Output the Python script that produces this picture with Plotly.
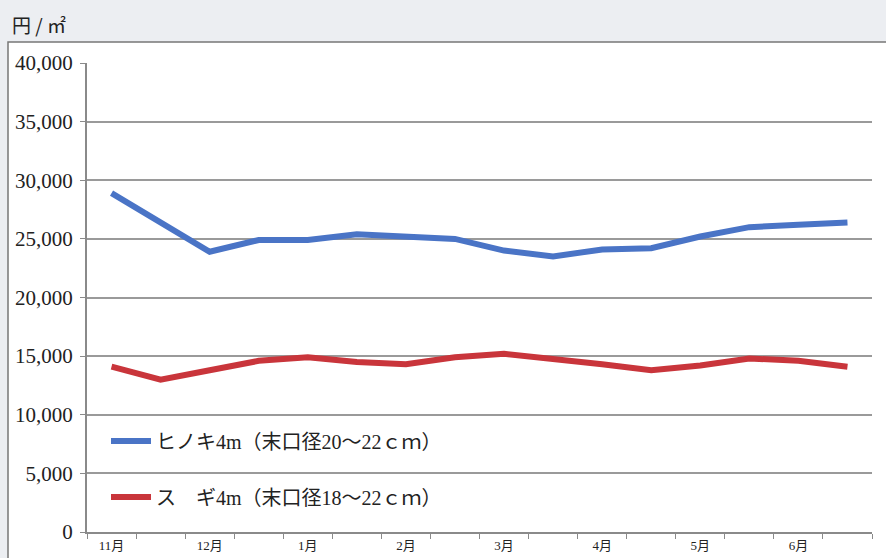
import plotly.graph_objects as go

# ---- data ----
periods = ["11月上", "11月下", "12月上", "12月下", "1月上", "1月下", "2月上", "2月下",
           "3月上", "3月下", "4月上", "4月下", "5月上", "5月下", "6月上", "6月下"]
hinoki = [28900, 26400, 23900, 24900, 24900, 25400, 25200, 25000,
          24000, 23500, 24100, 24200, 25200, 26000, 26200, 26400]
sugi = [14100, 13000, 13800, 14600, 14900, 14500, 14300, 14900,
        15200, 14800, 14300, 13800, 14200, 14800, 14600, 14100]
month_labels = ["11月", "12月", "1月", "2月", "3月", "4月", "5月", "6月"]
y_ticks = [0, 5000, 10000, 15000, 20000, 25000, 30000, 35000, 40000]
hinoki_name = "ヒノキ4m（末口径20～22ｃｍ）"
sugi_name = "ス　ギ4m（末口径18～22ｃｍ）"
unit_label = "円 / ㎡"

SERIF = "Liberation Serif, Noto Sans CJK JP, serif"
xs = list(range(len(periods)))

fig = go.Figure()
fig.add_trace(go.Scatter(x=xs, y=hinoki, mode="lines", name=hinoki_name,
                         line=dict(color="#4a74c6", width=6), legend="legend"))
fig.add_trace(go.Scatter(x=xs, y=sugi, mode="lines", name=sugi_name,
                         line=dict(color="#c9353b", width=6), legend="legend2"))

W, H = 886, 558
L, R, T, B = 87, 14, 63, 26
pw, ph = W - L - R, H - T - B

def px_x(p):
    return (p - L) / pw

def px_y(p):
    return (H - B - p) / ph

fig.update_layout(
    width=W, height=H,
    margin=dict(l=L, r=R, t=T, b=B, autoexpand=False),
    paper_bgcolor="#eceef2",
    plot_bgcolor="white",
    showlegend=True,
    legend=dict(x=px_x(106), y=px_y(441), xanchor="left", yanchor="middle",
                bgcolor="rgba(0,0,0,0)", font=dict(family=SERIF, size=20, color="#222"),
                itemwidth=40),
    legend2=dict(x=px_x(106), y=px_y(497), xanchor="left", yanchor="middle",
                 bgcolor="rgba(0,0,0,0)", font=dict(family=SERIF, size=20, color="#222"),
                 itemwidth=40),
    xaxis=dict(range=[-0.5, len(periods) - 0.5], tickmode="array",
               tickvals=xs[::2], ticktext=month_labels, automargin=False,
               ticks="", showgrid=False, showline=True, linecolor="#8a8a8a", linewidth=2,
               tickfont=dict(family=SERIF, size=13, color="#222"),
               minor=dict(tickmode="linear", tick0=-0.5, dtick=1, ticks="outside",
                          ticklen=5, tickcolor="#8a8a8a", showgrid=False),
               zeroline=False, fixedrange=True),
    yaxis=dict(range=[0, 40000], tickmode="array", tickvals=y_ticks, automargin=False,
               tickformat=",", ticks="outside", ticklen=5, tickcolor="#8a8a8a",
               showgrid=True, gridcolor="#9a9a9a", gridwidth=1.5,
               showline=True, linecolor="#8a8a8a", linewidth=2,
               tickfont=dict(family=SERIF, size=21, color="#222"),
               zeroline=False, ticklabelstandoff=3),
    shapes=[dict(type="rect", xref="paper", yref="paper",
                 x0=px_x(8), x1=px_x(900), y0=px_y(600), y1=px_y(42),
                 fillcolor="white", line=dict(color="#777", width=1.5), layer="below")],
    annotations=[dict(text=unit_label, xref="paper", yref="paper",
                      x=px_x(10), y=px_y(24), xanchor="left", yanchor="middle",
                      showarrow=False,
                      font=dict(family="Noto Sans CJK JP", size=19, color="#222"))],
)

fig.write_html("out.html")
